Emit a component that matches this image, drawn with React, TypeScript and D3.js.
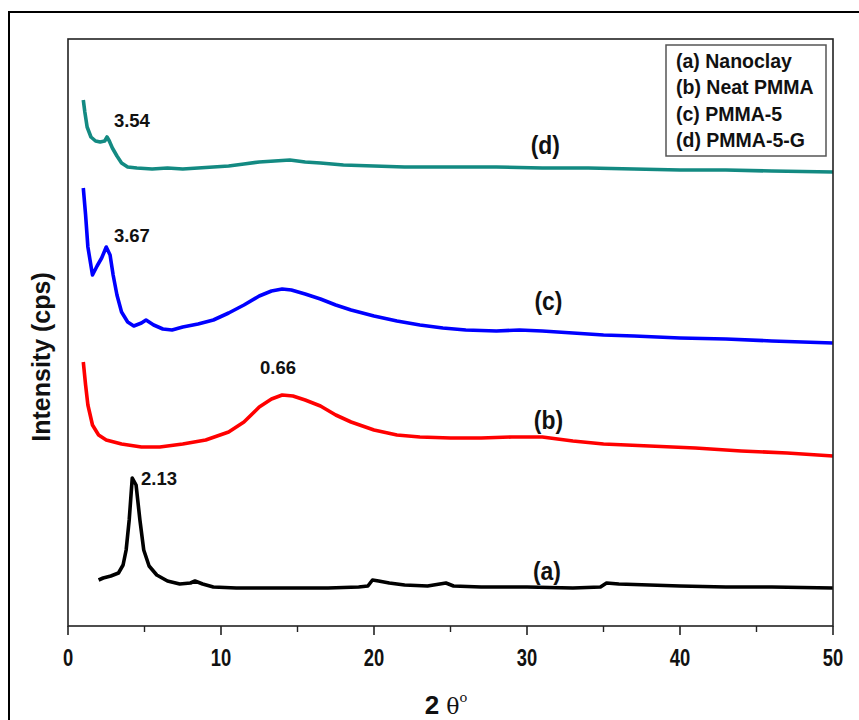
import React from "react";
import * as d3 from "d3";

// 2θ (deg) vs intensity (arbitrary counts, offset per curve as in the figure)
const nanoclay: [number, number][] = [
  [2.0, 46], [2.3, 48], [2.8, 50], [3.3, 53], [3.6, 61], [3.8, 76], [4.0, 106], [4.2, 148],
  [4.45, 141], [4.7, 106], [4.95, 76], [5.3, 60], [5.8, 51], [6.5, 45], [7.3, 42], [8.0, 43],
  [8.3, 45], [8.8, 42], [9.5, 39], [11, 38], [13, 38], [15, 38], [17, 38], [19, 39], [19.6, 40],
  [19.9, 46], [20.3, 45], [21, 43], [22, 41], [23.5, 40], [24.7, 43], [25.2, 40], [27, 39],
  [30, 39], [33, 38], [34.8, 39], [35.2, 43], [36, 42], [38, 41], [40, 40], [43, 39], [46, 39], [50, 38],
];

const neatPmma: [number, number][] = [
  [1.0, 264], [1.15, 241], [1.3, 221], [1.6, 201], [2.0, 191], [2.5, 186], [3.5, 182], [4.8, 179],
  [6, 179], [7.5, 182], [9, 186], [10.5, 194], [11.5, 204], [12.5, 219], [13.3, 227], [14, 231],
  [14.7, 230], [15.5, 226], [16.5, 220], [17.5, 211], [18.5, 204], [20, 196], [21.5, 191], [23, 189],
  [25, 188], [27, 188], [29, 189], [31, 189], [33, 185], [35, 182], [38, 180], [41, 178], [44, 175],
  [47, 173], [50, 170],
];

const pmma5: [number, number][] = [
  [1.0, 438], [1.15, 411], [1.3, 379], [1.6, 351], [1.9, 360], [2.2, 368], [2.5, 379], [2.75, 371],
  [2.95, 351], [3.2, 331], [3.5, 314], [3.9, 304], [4.3, 300], [4.8, 303], [5.1, 306], [5.6, 301],
  [6.2, 297], [6.8, 296], [7.5, 299], [8.5, 302], [9.5, 306], [10.5, 313], [11.5, 321], [12.5, 330],
  [13.3, 335], [14, 337], [14.6, 336], [15.5, 332], [16.5, 327], [17.5, 321], [18.5, 316], [20, 310],
  [21.5, 305], [23, 301], [24.5, 298], [26, 296], [28, 295], [29.5, 296], [31, 295], [33, 293],
  [35, 291], [37, 290], [40, 288], [43, 287], [46, 285], [50, 283],
];

const pmma5g: [number, number][] = [
  [1.0, 526], [1.1, 514], [1.25, 499], [1.5, 489], [1.8, 485], [2.1, 484], [2.4, 485], [2.55, 489],
  [2.7, 485], [2.9, 478], [3.2, 470], [3.5, 463], [3.9, 459], [4.5, 458], [5.5, 457], [6.5, 458],
  [7.5, 457], [8.5, 458], [9.5, 459], [10.5, 460], [11.5, 462], [12.5, 464], [13.5, 465], [14.5, 466],
  [15.5, 464], [16.5, 463], [18, 461], [20, 460], [22, 459], [25, 459], [28, 459], [31, 458],
  [34, 458], [37, 457], [40, 456], [43, 456], [46, 455], [50, 454],
];

const seriesNames = ["(a) Nanoclay", "(b) Neat PMMA", "(c) PMMA-5", "(d) PMMA-5-G"];
const curveTags = ["(a)", "(b)", "(c)", "(d)"];
const colors = ["#000000", "#ff0000", "#0000ff", "#138a82"];
// peak annotations: [2θ at label start, intensity at baseline, text]
const peakLabels: [number, number, string][] = [
  [4.77, 141, "2.13"],
  [12.55, 252, "0.66"],
  [3.0, 384, "3.67"],
  [3.0, 499, "3.54"],
];
// curve tag positions: [2θ centre, intensity at baseline]
const tagPos: [number, number][] = [
  [31.3, 46],
  [31.4, 197],
  [31.4, 316],
  [31.2, 472],
];
const xTicks = [0, 10, 20, 30, 40, 50];
const xMinor = [5, 15, 25, 35, 45];

export default function App() {
  const W = 859;
  const H = 720;
  const m = { left: 68, right: 833, top: 39, bottom: 626 };

  const x = d3.scaleLinear().domain([0, 50]).range([m.left, m.right]);
  const y = d3.scaleLinear().domain([0, 587]).range([m.bottom, m.top]);
  const line = d3
    .line<[number, number]>()
    .x((d) => x(d[0]))
    .y((d) => y(d[1]));

  const data = [nanoclay, neatPmma, pmma5, pmma5g];
  const font = "Liberation Sans, Arial, sans-serif";

  return (
    <svg
      width={W}
      height={H}
      style={{ position: "absolute", left: 0, top: 0, background: "#fff" }}
    >
      {/* outer frame */}
      <rect x={9} y={12} width={W + 10} height={H + 10} fill="none" stroke="#000" strokeWidth={2} />

      {/* curves */}
      {data.map((d, i) => (
        <path
          key={i}
          d={line(d) ?? ""}
          fill="none"
          stroke={colors[i]}
          strokeWidth={3.6}
          strokeLinejoin="round"
        />
      ))}

      {/* plot frame */}
      <rect
        x={m.left}
        y={m.top}
        width={m.right - m.left}
        height={m.bottom - m.top}
        fill="none"
        stroke="#222"
        strokeWidth={1.6}
      />

      {/* x ticks */}
      {xTicks.map((t) => (
        <g key={t} transform={`translate(${x(t)},${m.bottom})`}>
          <line y1={0} y2={9} stroke="#222" strokeWidth={1.6} />
          <text
            transform="translate(0,40) scale(0.8,1)"
            textAnchor="middle"
            fontFamily={font}
            fontWeight="bold"
            fontSize={23}
            fill="#111"
          >
            {t}
          </text>
        </g>
      ))}
      {xMinor.map((t) => (
        <line key={t} x1={x(t)} x2={x(t)} y1={m.bottom} y2={m.bottom + 6} stroke="#222" strokeWidth={1.4} />
      ))}

      {/* axis titles */}
      <g transform="translate(446,714)">
        <text textAnchor="middle" fill="#111">
          <tspan fontFamily={font} fontWeight="bold" fontSize={26}>2 </tspan>
          <tspan fontFamily="DejaVu Serif, serif" fontSize={22}>θ</tspan>
          <tspan fontFamily="DejaVu Serif, serif" fontSize={13} dy={-12}>o</tspan>
        </text>
      </g>
      <text
        transform={`translate(50,357) rotate(-90)`}
        textAnchor="middle"
        fontFamily={font}
        fontWeight="bold"
        fontSize={25}
        fill="#111"
      >
        Intensity (cps)
      </text>

      {/* peak labels */}
      {peakLabels.map(([px, py, t], i) => (
        <text
          key={i}
          x={x(px)}
          y={y(py)}
          fontFamily={font}
          fontWeight="bold"
          fontSize={18.5}
          fill="#111"
        >
          {t}
        </text>
      ))}

      {/* curve tags */}
      {tagPos.map(([px, py], i) => (
        <text
          key={i}
          transform={`translate(${x(px)},${y(py)}) scale(0.88,1)`}
          textAnchor="middle"
          fontFamily={font}
          fontWeight="bold"
          fontSize={26}
          fill="#111"
        >
          {curveTags[i]}
        </text>
      ))}

      {/* legend */}
      <rect x={666} y={45} width={160} height={111} fill="#fff" stroke="#555" strokeWidth={1.5} />
      {seriesNames.map((s, i) => (
        <text
          key={s}
          x={676}
          y={68 + i * 26.3}
          fontFamily={font}
          fontWeight="bold"
          fontSize={19.5}
          fill="#111"
        >
          {s}
        </text>
      ))}
    </svg>
  );
}
